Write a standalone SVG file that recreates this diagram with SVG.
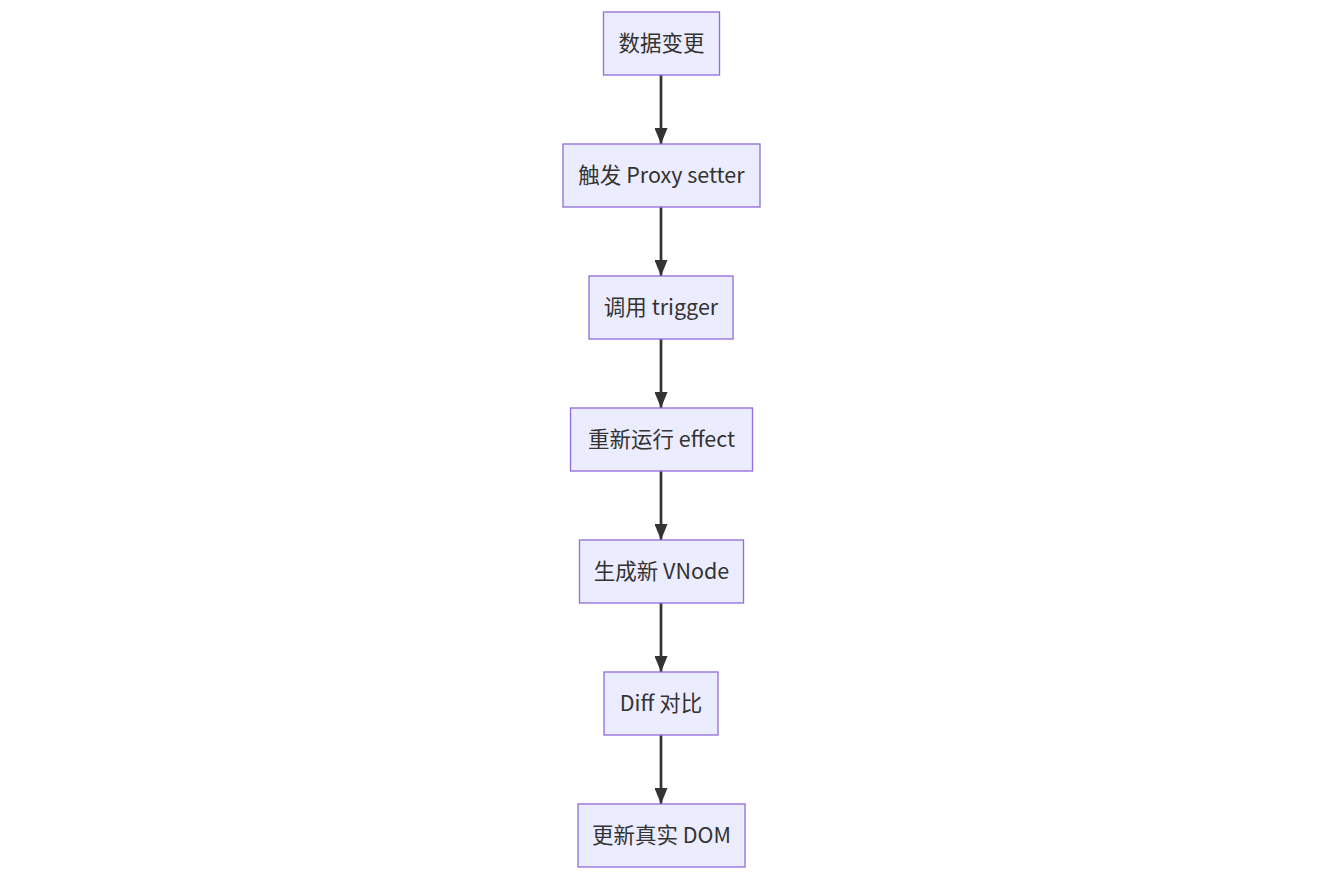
<svg xmlns="http://www.w3.org/2000/svg" width="1323" height="878" viewBox="0 0 1323 878">
<style>
.node rect{fill:#ECECFF;stroke:#9370DB;stroke-width:1.35}
.node text{font-family:"Noto Sans CJK SC","Noto Sans",sans-serif;font-size:21.5px;fill:#333333;text-anchor:middle;dominant-baseline:central}
.edge{stroke:#333333;stroke-width:2.7;fill:none}
</style>
<defs>
<marker id="arrow" viewBox="0 0 16 13" refX="16" refY="6.5" markerWidth="16" markerHeight="13" markerUnits="userSpaceOnUse" orient="auto">
<path d="M0,0 L16,6.5 L0,13 Z" fill="#333333"/>
</marker>
</defs>
<rect width="1323" height="878" fill="#ffffff"/>
<g id="edges">
<line class="edge" x1="661" y1="75" x2="661" y2="144" marker-end="url(#arrow)"/>
<line class="edge" x1="661" y1="207" x2="661" y2="276" marker-end="url(#arrow)"/>
<line class="edge" x1="661" y1="339" x2="661" y2="408" marker-end="url(#arrow)"/>
<line class="edge" x1="661" y1="471" x2="661" y2="540" marker-end="url(#arrow)"/>
<line class="edge" x1="661" y1="603" x2="661" y2="672" marker-end="url(#arrow)"/>
<line class="edge" x1="661" y1="735" x2="661" y2="804" marker-end="url(#arrow)"/>
</g>
<g id="n1" class="node"><rect x="603.5" y="12" width="116" height="63"/><text x="661.5" y="41.5">数据变更</text></g>
<g id="n2" class="node"><rect x="563" y="144" width="197" height="63"/><text x="661.5" y="173.5">触发 Proxy setter</text></g>
<g id="n3" class="node"><rect x="589" y="276" width="144" height="63"/><text x="661" y="305.5">调用 trigger</text></g>
<g id="n4" class="node"><rect x="570.5" y="408" width="182" height="63"/><text x="661.5" y="437.5">重新运行 effect</text></g>
<g id="n5" class="node"><rect x="579.5" y="540" width="164" height="63"/><text x="661.5" y="569.5">生成新 VNode</text></g>
<g id="n6" class="node"><rect x="604" y="672" width="114" height="63"/><text x="661" y="701.5">Diff 对比</text></g>
<g id="n7" class="node"><rect x="578" y="804" width="167" height="63"/><text x="661.5" y="833.5">更新真实 DOM</text></g>
</svg>
